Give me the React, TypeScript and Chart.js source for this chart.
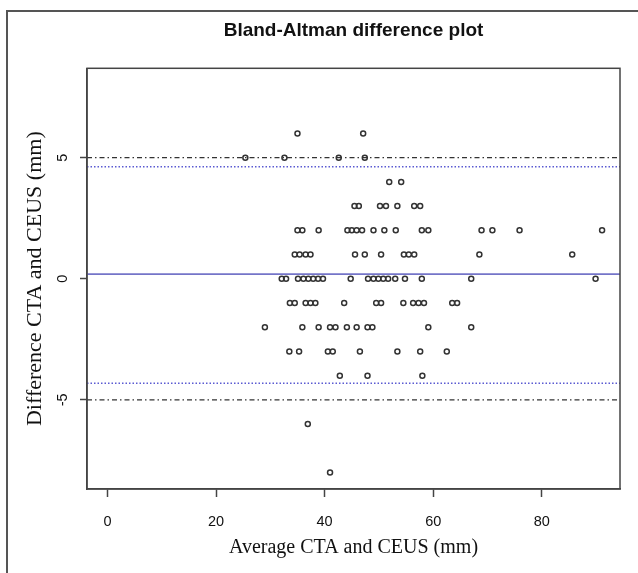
import React, { useEffect, useRef } from "react";
import { Chart, registerables } from "chart.js";

Chart.register(...registerables);

// ---- Data ----
const averages = [
  // diff 6
  35.0, 47.1,
  // diff 5
  25.4, 32.6, 42.6, 47.4,
  // diff 4
  51.9, 54.1,
  // diff 3
  45.5, 46.3, 50.2, 51.3, 53.4, 56.5, 57.6,
  // diff 2
  35.0, 35.9, 38.9, 44.2, 45.0, 45.9, 46.9, 49.0, 51.0, 53.1, 57.9, 59.1, 68.9, 70.9, 75.9, 91.1,
  // diff 1
  34.5, 35.4, 36.5, 37.4, 45.6, 47.4, 50.4, 54.6, 55.5, 56.5, 68.5, 85.6,
  // diff 0
  32.1, 32.9, 35.1, 36.1, 37.0, 37.9, 38.8, 39.7, 44.8, 48.0, 49.0, 49.9, 50.8, 51.7, 53.0, 54.8, 57.9, 67.0, 89.9,
  // diff -1
  33.6, 34.5, 36.5, 37.4, 38.3, 43.6, 49.5, 50.4, 54.5, 56.3, 57.3, 58.3, 63.5, 64.4,
  // diff -2
  29.0, 35.9, 38.9, 41.0, 42.0, 44.1, 45.9, 47.9, 48.8, 59.1, 67.0,
  // diff -3
  33.5, 35.3, 40.6, 41.5, 46.5, 53.4, 57.6, 62.5,
  // diff -4
  42.8, 47.9, 58.0,
  // diff -6
  36.9,
  // diff -8
  41.0,
];

const differences = [
  6, 6,
  5, 5, 5, 5,
  4, 4,
  3, 3, 3, 3, 3, 3, 3,
  2, 2, 2, 2, 2, 2, 2, 2, 2, 2, 2, 2, 2, 2, 2, 2,
  1, 1, 1, 1, 1, 1, 1, 1, 1, 1, 1, 1,
  0, 0, 0, 0, 0, 0, 0, 0, 0, 0, 0, 0, 0, 0, 0, 0, 0, 0, 0,
  -1, -1, -1, -1, -1, -1, -1, -1, -1, -1, -1, -1, -1, -1,
  -2, -2, -2, -2, -2, -2, -2, -2, -2, -2, -2,
  -3, -3, -3, -3, -3, -3, -3, -3,
  -4, -4, -4,
  -6,
  -8,
];

const meanDifference = 0.19;
const limitsOfAgreement = [4.63, -4.31];
const toleranceLimits = [5, -5];

const xTickValues = [0, 20, 40, 60, 80];
const yTickValues = [-5, 0, 5];
const xRange = [-3.76, 94.4];
const yRange = [-8.68, 8.69];

const titleText = "Bland-Altman difference plot";
const xTitle = "Average CTA and CEUS (mm)";
const yTitle = "Difference CTA and CEUS (mm)";

const SANS = '"Liberation Sans", Arial, sans-serif';
const SERIF = '"Liberation Serif", "Times New Roman", serif';
const AXIS = "#444";

const hLine = (y: number) => [
  { x: xRange[0], y },
  { x: xRange[1], y },
];

const plotBox = {
  id: "plotBox",
  afterDraw(chart: any) {
    const { ctx, chartArea } = chart;
    const { left, top, right, bottom } = chartArea;
    ctx.save();
    ctx.strokeStyle = AXIS;
    ctx.lineWidth = 1.5;
    ctx.strokeRect(left, top, right - left, bottom - top);
    ctx.restore();
  },
};

export default function App() {
  const ref = useRef<HTMLCanvasElement | null>(null);

  useEffect(() => {
    if (!ref.current) return;
    Chart.defaults.font.family = SANS;
    const points = averages.map((a, i) => ({ x: a, y: differences[i] }));

    const chart = new Chart(ref.current, {
      type: "scatter",
      data: {
        datasets: [
          {
            type: "scatter",
            data: points,
            pointStyle: "circle",
            pointRadius: 2.5,
            pointBorderWidth: 1.5,
            pointBorderColor: "#333",
            pointBackgroundColor: "rgba(0,0,0,0)",
          } as any,
          ...toleranceLimits.map((v) => ({
            type: "line",
            data: hLine(v),
            borderColor: "#333",
            borderWidth: 1.2,
            borderDash: [5, 3, 1.5, 3],
            pointRadius: 0,
            fill: false,
          })),
          ...limitsOfAgreement.map((v) => ({
            type: "line",
            data: hLine(v),
            borderColor: "#5a5ad2",
            borderWidth: 1.5,
            borderDash: [1.5, 2],
            pointRadius: 0,
            fill: false,
          })),
          {
            type: "line",
            data: hLine(meanDifference),
            borderColor: "#7474c8",
            borderWidth: 1.6,
            pointRadius: 0,
            fill: false,
          } as any,
        ] as any,
      },
      options: {
        responsive: false,
        animation: false,
        devicePixelRatio: 1,
        layout: { padding: { left: 0, right: 18, top: 0, bottom: 0 } },
        plugins: {
          legend: { display: false },
          tooltip: { enabled: false },
          title: {
            display: true,
            fullSize: false,
            text: titleText,
            color: "#111",
            font: { family: SANS, size: 19, weight: "bold" },
            padding: { top: 19.6, bottom: 25.9 },
          },
        },
        scales: {
          x: {
            type: "linear",
            min: xRange[0],
            max: xRange[1],
            afterBuildTicks: (s: any) => {
              s.ticks = xTickValues.map((v) => ({ value: v }));
            },
            afterFit: (s: any) => {
              s.height = 84;
            },
            grid: {
              drawOnChartArea: false,
              drawTicks: true,
              tickLength: 8,
              tickColor: AXIS,
              tickWidth: 1.5,
            },
            border: { display: true, color: AXIS, width: 1.5 },
            ticks: {
              color: "#111",
              font: { size: 14.5 },
              padding: 16,
              maxRotation: 0,
              autoSkip: false,
            },
            title: {
              display: true,
              text: xTitle,
              color: "#111",
              font: { family: SERIF, size: 20 },
              padding: { top: 0, bottom: 13 },
            },
          },
          y: {
            type: "linear",
            min: yRange[0],
            max: yRange[1],
            afterBuildTicks: (s: any) => {
              s.ticks = yTickValues.map((v) => ({ value: v }));
            },
            afterFit: (s: any) => {
              s.width = 87;
            },
            grid: {
              drawOnChartArea: false,
              drawTicks: true,
              tickLength: 7,
              tickColor: AXIS,
              tickWidth: 1.5,
            },
            border: { display: true, color: AXIS, width: 1.5 },
            ticks: {
              color: "#111",
              font: { size: 14.5 },
              padding: 10.5,
              minRotation: 90,
              maxRotation: 90,
              crossAlign: "center",
              autoSkip: false,
            },
            title: {
              display: true,
              text: yTitle,
              color: "#111",
              font: { family: SERIF, size: 22 },
              padding: { top: 22, bottom: 0 },
            },
          },
        },
      } as any,
      plugins: [plotBox],
    });
    return () => chart.destroy();
  }, []);

  return (
    <div
      style={{
        position: "fixed",
        left: 0,
        top: 0,
        width: 638,
        height: 573,
        overflow: "hidden",
        background: "#fff",
      }}
    >
      <div
        style={{
          position: "absolute",
          left: 6,
          top: 10,
          width: 800,
          height: 800,
          border: "2px solid #555",
          boxSizing: "border-box",
        }}
      />
      <canvas
        ref={ref}
        width={638}
        height={573}
        style={{ position: "absolute", left: 0, top: 0, width: 638, height: 573 }}
      />
    </div>
  );
}
